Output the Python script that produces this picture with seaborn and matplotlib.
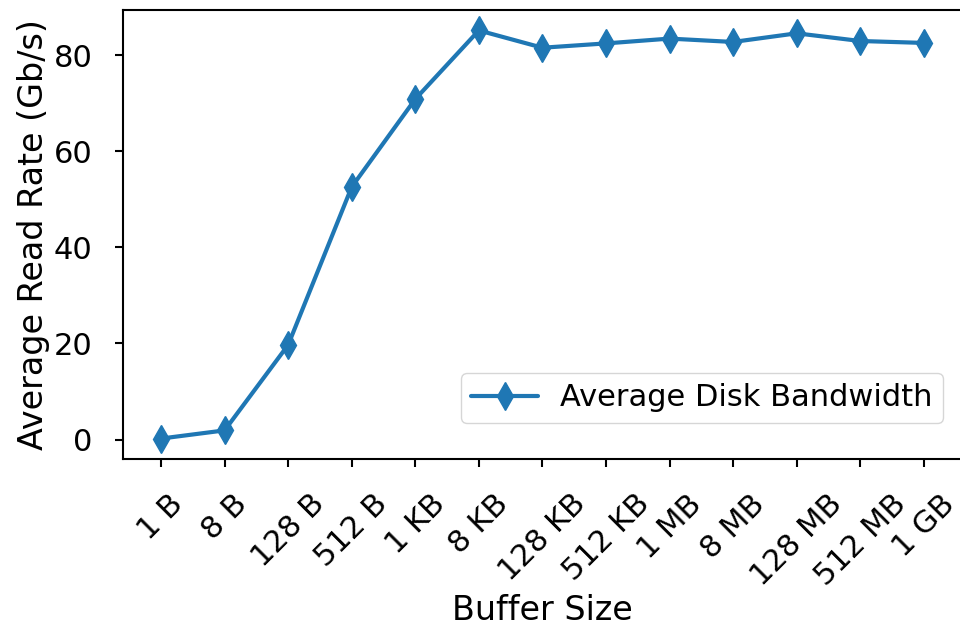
import matplotlib
matplotlib.use("Agg")
import matplotlib.pyplot as plt
import numpy as np
import pandas as pd
import seaborn as sns

# Buffer sizes tested and the measured mean read rate for each
buffer_sizes = ["1 B", "8 B", "128 B", "512 B", "1 KB", "8 KB", "128 KB",
                "512 KB", "1 MB", "8 MB", "128 MB", "512 MB", "1 GB"]
read_rate_gbps = [0.2, 1.9, 19.7, 52.6, 70.9, 85.2, 81.6,
                  82.5, 83.5, 82.8, 84.6, 83.0, 82.6]
y_ticks = [0, 20, 40, 60, 80]
series_name = "Average Disk Bandwidth"
line_color = "#1f77b4"

sns.set_theme(style="ticks")
plt.rcParams["font.family"] = ["DejaVu Sans"]
plt.rcParams.update({
    "axes.edgecolor": "black",
    "axes.linewidth": 1.5,
    "xtick.color": "black",
    "ytick.color": "black",
    "xtick.major.size": 5.8,
    "ytick.major.size": 5.8,
    "xtick.major.width": 1.5,
    "ytick.major.width": 1.5,
    "text.color": "black",
    "axes.labelcolor": "black",
})

df = pd.DataFrame({
    "pos": np.arange(len(buffer_sizes)),
    "rate": read_rate_gbps,
    "series": series_name,
})

fig = plt.figure(figsize=(9.6, 6.27), dpi=100)
ax = fig.add_axes([0.128, 0.268, 0.874, 0.716])

sns.lineplot(data=df, x="pos", y="rate", hue="series", palette=[line_color],
             marker="d", markersize=14, markeredgewidth=1,
             markeredgecolor=line_color, linewidth=3, sort=False, ax=ax)

tick_fs = 22
label_fs = 24
ax.set_xticks(df["pos"])
ax.set_xticklabels(buffer_sizes, rotation=45, ha="center", fontsize=tick_fs)
ax.set_yticks(y_ticks)
ax.tick_params(axis="y", labelsize=tick_fs, pad=16)
ax.tick_params(axis="x", pad=16)
ax.set_xlabel("Buffer Size", fontsize=label_fs, labelpad=2)
ax.set_ylabel("Average Read Rate (Gb/s)", fontsize=label_fs, labelpad=3)
ax.margins(x=0.05, y=0.05)
for side in ["top", "right"]:
    ax.spines[side].set_visible(True)

ax.legend(loc="lower right", fontsize=tick_fs, frameon=True,
          handlelength=2.2, handletextpad=0.7, borderpad=0.35,
          borderaxespad=0, bbox_to_anchor=(0.9775, 0.08))

fig.savefig("out.png", dpi=100)
